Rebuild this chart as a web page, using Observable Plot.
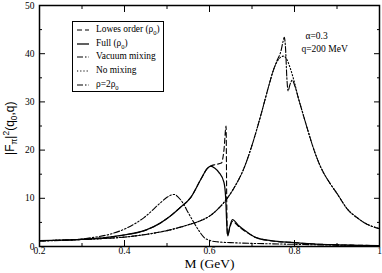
<!DOCTYPE html>
<html><head><meta charset="utf-8">
<script src="https://cdn.jsdelivr.net/npm/d3@7"></script>
<script src="https://cdn.jsdelivr.net/npm/@observablehq/plot@0.6"></script>
<style>
body{margin:0;background:#fff;}
#wrap{position:relative;width:382px;height:273px;font-family:"Liberation Serif","Times New Roman",serif;}
#legend{position:absolute;left:72px;top:21px;width:92px;height:71px;border:1px solid #000;background:#fff;box-sizing:border-box;font-family:"Liberation Serif",serif;}
.row{position:absolute;left:0;height:12px;font-size:9.4px;line-height:12px;white-space:nowrap;}
.row svg{position:absolute;left:2px;top:0;}
.row span{position:absolute;left:23px;top:-1px;}
.ylab{position:absolute;left:-45px;top:117px;width:110px;text-align:center;transform:rotate(-90deg);font-family:"Liberation Sans",sans-serif;font-size:12px;line-height:14px;white-space:nowrap;}
sub,sup{font-size:70%;}
</style></head>
<body><div id="wrap"></div>
<script>
// ---- data ----
const xTicksMajor = [0.2, 0.4, 0.6, 0.8, 1.0];
const xTicksMinor = [0.3, 0.5, 0.7, 0.9];
const yTicksMajor = [0, 10, 20, 30, 40, 50];
const yTicksMinor = [5, 15, 25, 35, 45];

const fullM = [0.2,0.25,0.3,0.35,0.4,0.45,0.485,0.5,0.53,0.556,0.58,0.595,0.603,0.612,0.622,0.634,0.638,0.641,0.643,0.647,0.654,0.669,0.685,0.708,0.744,0.8,0.85,0.9,0.95,1.0];
const fullF = [1.2,1.3,1.5,1.8,2.4,3.4,4.9,5.8,8.0,10.2,14.0,16.2,16.7,16.3,15.4,13.3,10.2,4.0,2.2,3.8,5.6,4.3,3.2,1.9,1.2,0.8,0.5,0.35,0.25,0.2];

const lowM = [0.2,0.25,0.3,0.35,0.4,0.45,0.485,0.5,0.53,0.556,0.58,0.595,0.603,0.614,0.628,0.634,0.639,0.6405,0.642,0.643,0.647,0.654,0.669,0.685,0.708,0.744,0.8,0.85,0.9,0.95,1.0];
const lowF = [1.2,1.3,1.5,1.8,2.4,3.4,4.9,5.8,8.0,10.2,14.0,16.2,16.7,17.0,17.3,20.0,25.0,10.0,2.5,2.4,3.6,5.2,4.1,3.1,1.9,1.2,0.8,0.5,0.35,0.25,0.2];

const vacM = [0.2,0.25,0.3,0.35,0.4,0.45,0.5,0.55,0.58,0.6,0.62,0.64,0.66,0.68,0.70,0.72,0.74,0.75,0.76,0.768,0.773,0.776,0.779,0.782,0.785,0.789,0.795,0.80,0.81,0.82,0.83,0.846,0.86,0.885,0.9,0.924,0.95,0.963,1.0];
const vacF = [1.2,1.3,1.45,1.65,1.95,2.5,3.3,4.5,5.4,6.3,7.8,9.8,12.5,16,21,27,33.5,36.5,38.8,40.5,42.5,43.4,41,35,32.3,33.5,34.5,33.5,30.5,27.5,24.5,20,16.8,12.9,11,7.8,5.8,5.0,3.7];

const noM = [0.2,0.25,0.3,0.35,0.4,0.45,0.5,0.55,0.58,0.6,0.62,0.64,0.66,0.68,0.70,0.72,0.74,0.75,0.76,0.768,0.775,0.782,0.79,0.80,0.81,0.82,0.83,0.846,0.86,0.885,0.9,0.924,0.95,0.963,1.0];
const noF = [1.2,1.3,1.45,1.65,1.95,2.5,3.3,4.5,5.4,6.3,7.8,9.8,12.5,16,21,27,33.5,36.5,38.5,39.3,39.5,38.8,37,34,30.5,27.5,24.5,20,16.8,12.9,11,7.8,5.8,5.0,3.7];

const r2M = [0.2,0.25,0.3,0.328,0.368,0.407,0.446,0.485,0.5,0.516,0.532,0.552,0.563,0.575,0.587,0.603,0.62,0.65,0.7,0.75,0.8,0.85,0.9,0.95,1.0];
const r2F = [1.15,1.25,1.55,1.9,2.6,3.9,6.0,9.1,10.2,10.8,9.7,6.7,5.0,3.3,1.9,1.2,0.95,0.8,0.65,0.55,0.45,0.35,0.28,0.22,0.18];

const seriesNames = ["Lowes order (ρ0)", "Full (ρ0)", "Vacuum mixing", "No mixing", "ρ=2ρ0"];
const dashes = ["5,3", null, "6,2,1.5,2", "1.2,2", "6,2,1.5,2,1.5,2"];
const widths = [1.1, 1.25, 1.1, 1.1, 1.1];

const toRows = (m, f) => m.map((x, i) => ({m: x, f: f[i]}));
const series = [toRows(lowM, lowF), toRows(fullM, fullF), toRows(vacM, vacF), toRows(noM, noF), toRows(r2M, r2F)];

const lineMarks = series.map((d, i) => Plot.line(d, {
  x: "m", y: "f", stroke: "black", strokeWidth: widths[i],
  strokeDasharray: dashes[i], curve: "monotone-x"
}));

const fmtX = d => (Math.abs(d - 1) < 1e-9 ? "1" : d.toFixed(1));

const chart = Plot.plot({
  width: 382, height: 273,
  marginLeft: 39, marginRight: 3, marginTop: 5, marginBottom: 27,
  style: {fontFamily: "'Liberation Serif', serif", fontSize: "9px", background: "white", color: "black"},
  x: {domain: [0.2, 1.0]},
  y: {domain: [0, 50]},
  marks: [
    ...lineMarks,
    // inward ticks on all four sides
    Plot.axisX(xTicksMajor, {anchor: "bottom", tickSize: -6, text: null, label: null, strokeWidth: 1}),
    Plot.axisX(xTicksMinor, {anchor: "bottom", tickSize: -3, text: null, label: null, strokeWidth: 1}),
    Plot.axisX(xTicksMajor, {anchor: "top", tickSize: -6, text: null, label: null, strokeWidth: 1}),
    Plot.axisX(xTicksMinor, {anchor: "top", tickSize: -3, text: null, label: null, strokeWidth: 1}),
    Plot.axisY(yTicksMajor, {anchor: "left", tickSize: -6, text: null, label: null, strokeWidth: 1}),
    Plot.axisY(yTicksMinor, {anchor: "left", tickSize: -3, text: null, label: null, strokeWidth: 1}),
    Plot.axisY(yTicksMajor, {anchor: "right", tickSize: -6, text: null, label: null, strokeWidth: 1}),
    Plot.axisY(yTicksMinor, {anchor: "right", tickSize: -3, text: null, label: null, strokeWidth: 1}),
    // tick labels
    Plot.axisX(xTicksMajor, {anchor: "bottom", tickSize: 0, tickPadding: 1, tickFormat: fmtX, label: null, fontSize: 9.5}),
    Plot.axisY(yTicksMajor, {anchor: "left", tickSize: 0, tickPadding: 5, label: null, fontSize: 9.5}),
    Plot.frame({stroke: "black", strokeWidth: 1.5}),
    // annotations
    Plot.text(["α=0.3"], {frameAnchor: "top-right", dx: -74, dy: 27, textAnchor: "start", fontSize: 9.5}),
    Plot.text(["q=200 MeV"], {frameAnchor: "top-right", dx: -78, dy: 40, textAnchor: "start", fontSize: 9.5}),
    Plot.text(["M (GeV)"], {frameAnchor: "bottom", dy: 21, fontSize: 13.5})
  ]
});

const wrap = document.getElementById("wrap");
wrap.appendChild(chart);

// legend (inside plot area, as in the reference)
const legend = document.createElement("div");
legend.id = "legend";
const labelsHtml = ["Lowes order (ρ<sub>0</sub>)", "Full (ρ<sub>0</sub>)", "Vacuum mixing", "No mixing", "ρ=2ρ<sub>0</sub>"];
labelsHtml.forEach((html, i) => {
  const row = document.createElement("div");
  row.className = "row";
  row.style.top = (2 + i * 13.7) + "px";
  const dash = dashes[i] ? `stroke-dasharray="${dashes[i]}"` : "";
  row.innerHTML = `<svg width="16" height="12"><line x1="2" y1="6" x2="14" y2="6" stroke="black" stroke-width="${widths[i]}" ${dash}/></svg><span>${html}</span>`;
  legend.appendChild(row);
});
wrap.appendChild(legend);

const ylab = document.createElement("div");
ylab.className = "ylab";
ylab.innerHTML = "|F<sub>π</sub>|<sup>2</sup>(q<sub>0</sub>,q)";
wrap.appendChild(ylab);
</script>
</body></html>
